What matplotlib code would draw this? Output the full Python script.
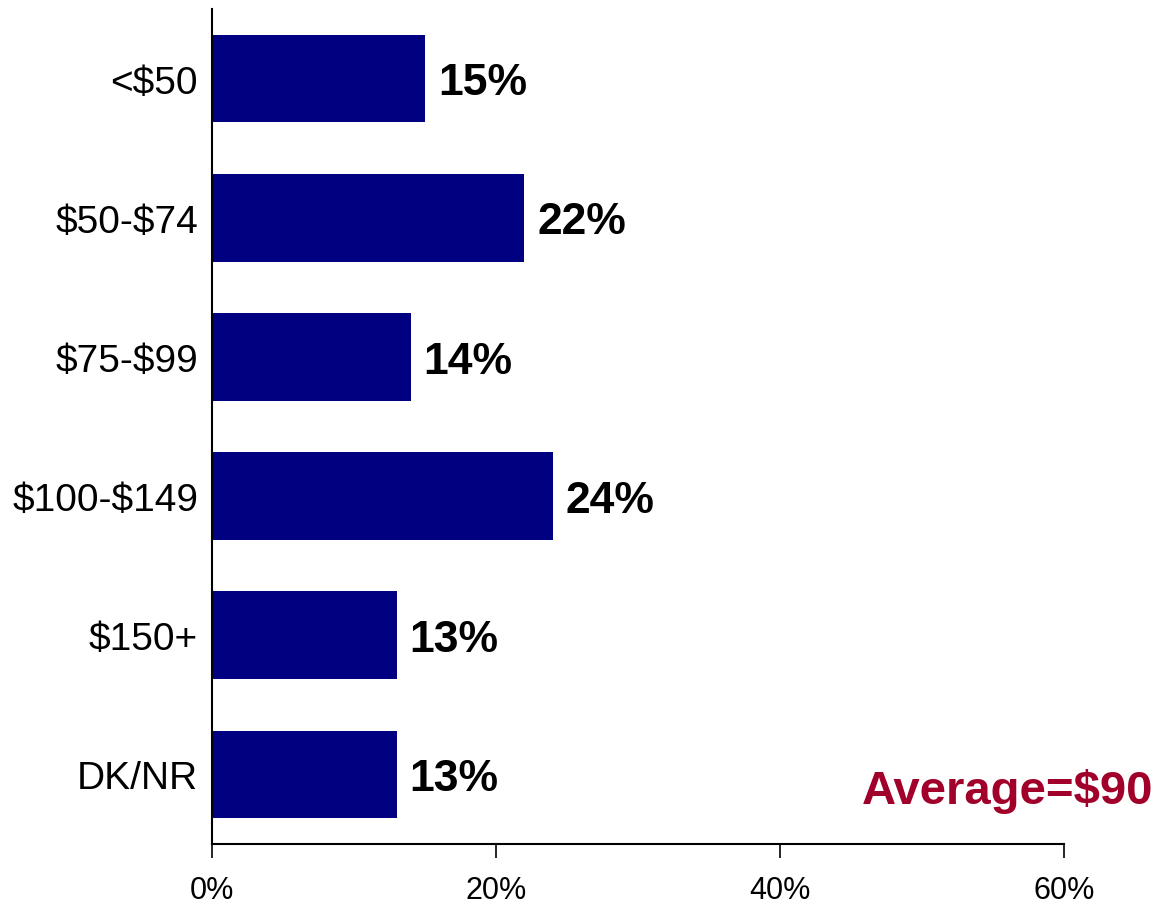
import matplotlib.pyplot as plt
from matplotlib.ticker import FuncFormatter

# Data
categories = ['<$50', '$50-$74', '$75-$99', '$100-$149', '$150+', 'DK/NR']
values = [15, 22, 14, 24, 13, 13]
x_ticks = [0, 20, 40, 60]
average_label = 'Average=$90'

plt.rcParams['font.family'] = ['Liberation Sans', 'DejaVu Sans']
plt.rcParams['text.parse_math'] = False  # keep the $ signs literal

fig = plt.figure(figsize=(11.55, 9.04), dpi=100)
ax = fig.add_axes([212 / 1155, 1 - 845 / 904, 852 / 1155, 835 / 904])

ypos = list(range(len(categories)))
ax.barh(ypos, values, height=0.63, color='#000080')

# Value labels to the right of each bar
for y, v in zip(ypos, values):
    ax.text(v + 0.9, y + 0.03, f'{v}%', va='center', ha='left',
            fontsize=32, fontweight='bold', color='black')

ax.set_xlim(0, 60)
ax.set_ylim(len(categories) - 0.5, -0.5)
ax.set_xticks(x_ticks)
ax.xaxis.set_major_formatter(FuncFormatter(lambda x, p: f'{x:.0f}%'))
ax.set_yticks(ypos)
ax.set_yticklabels(categories, fontsize=28)
ax.tick_params(axis='y', length=0, pad=10)
ax.tick_params(axis='x', labelsize=22, length=10, width=1.2, pad=12)

for s in ['top', 'right']:
    ax.spines[s].set_visible(False)
for s in ['left', 'bottom']:
    ax.spines[s].set_linewidth(1.5)

fig.text(1153 / 1155, 1 - 792 / 904, average_label, ha='right', va='center',
         fontsize=34, fontweight='bold', color='#A0002A')

fig.savefig('out.png', dpi=100)
